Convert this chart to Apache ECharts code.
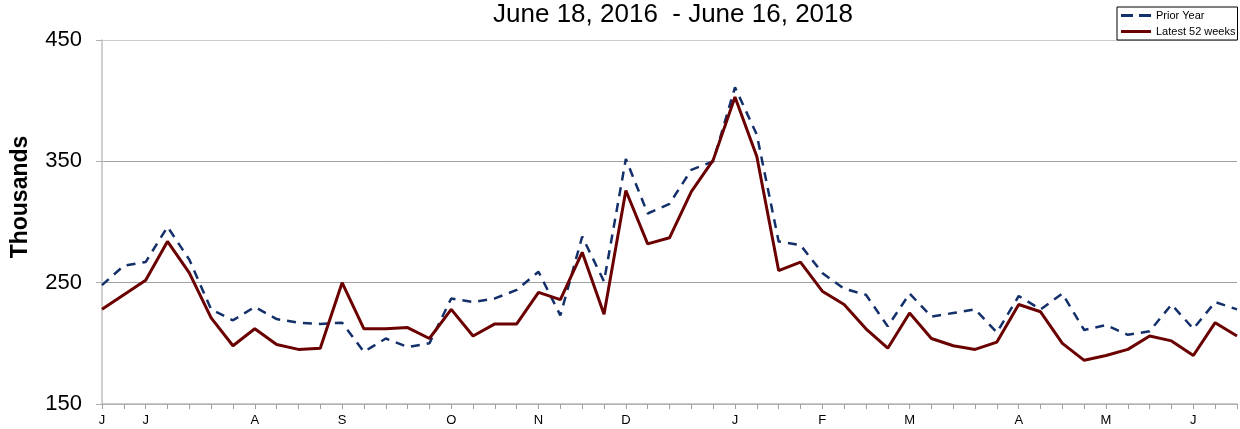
<!DOCTYPE html>
<html>
<head>
<meta charset="utf-8">
<script src="https://cdn.jsdelivr.net/npm/echarts@6/dist/echarts.min.js"></script>
<style>
html,body{margin:0;padding:0;background:#fff;}
#c{width:1240px;height:429px;}
</style>
</head>
<body>
<div id="c"></div>
<script>
var monthLabels = ['J','','J','','','','','A','','','','S','','','','','O','','','','N','','','','D','','','','','J','','','','F','','','','M','','','','','A','','','','M','','','','J','',''];
var priorYear = [248,264,267,296,269,228,219,230,220,217,216,217,193,204,197,200,237,234,237,244,259,223,288,251,352,307,315,343,350,411,372,284,281,258,245,240,214,241,222,225,228,209,239,228,241,211,215,207,210,232,212,234,228];
var latest52 = [228,240,252,284,258,221,198,212,199,195,196,250,212,212,213,204,228,206,216,216,242,236,275,224,326,282,287,325,351,403,354,260,267,243,232,212,196,225,204,198,195,201,232,226,200,186,190,195,206,202,190,217,206];
var yTicks = [150,250,350,450];

var chart = echarts.init(document.getElementById('c'), null, {renderer:'canvas'});
chart.setOption({
  animation:false,
  backgroundColor:'#fff',
  title:{
    text:'June 18, 2016  - June 16, 2018',
    left:668, top:-3, textAlign:'center',
    textStyle:{fontFamily:'Liberation Sans, Arial', fontSize:26, fontWeight:'normal', color:'#000'}
  },
  graphic:[{
    type:'text', x:21, y:197, rotation:Math.PI/2,
    style:{text:'Thousands', textAlign:'center', textVerticalAlign:'middle',
      font:'bold 23px "Liberation Sans", Arial', fill:'#000'}
  }],
  legend:{
    left:1117, top:7, orient:'vertical',
    itemWidth:30, itemHeight:3, itemGap:3,
    padding:[2,2,2,4],
    borderColor:'#000', borderWidth:1, backgroundColor:'#fff', borderRadius:0,
    textStyle:{fontFamily:'Liberation Sans, Arial', fontSize:11, color:'#000', lineHeight:13},
    data:[
      {name:'Prior Year', icon:'path://M0,0h12v3h-12z M18,0h12v3h-12z'},
      {name:'Latest 52 weeks', icon:'rect'}
    ]
  },
  grid:{left:102, top:40, right:0, bottom:25, containLabel:false},
  xAxis:{
    type:'category', boundaryGap:false, data:monthLabels,
    axisLine:{lineStyle:{color:'#b8b8b8', width:1.5}},
    axisTick:{show:true, interval:0, length:5, lineStyle:{color:'#a0a0a0'}},
    axisLabel:{interval:0, margin:10, fontFamily:'Liberation Sans, Arial', fontSize:13, color:'#000'},
    splitLine:{show:false}
  },
  yAxis:{
    type:'value', min:yTicks[0], max:yTicks[yTicks.length-1], interval:100,
    axisLine:{show:true, lineStyle:{color:'#c0c0c0', width:1.5}},
    axisTick:{show:true, length:6, lineStyle:{color:'#b0b0b0'}},
    axisLabel:{margin:20, fontFamily:'Liberation Sans, Arial', fontSize:22, color:'#000'},
    splitLine:{show:true, lineStyle:{color:['#a8a8a8','#a0a0a0','#a0a0a0','#cccccc'], width:[1]}}
  },
  series:[
    {name:'Prior Year', type:'line', data:priorYear, symbol:'none', z:3,
     lineStyle:{color:'#14306a', width:2.5, type:[9,7]}, itemStyle:{color:'#14306a'}},
    {name:'Latest 52 weeks', type:'line', data:latest52, symbol:'none', z:4,
     lineStyle:{color:'#6a0000', width:3}, itemStyle:{color:'#6a0000'}}
  ]
});
</script>
</body>
</html>
